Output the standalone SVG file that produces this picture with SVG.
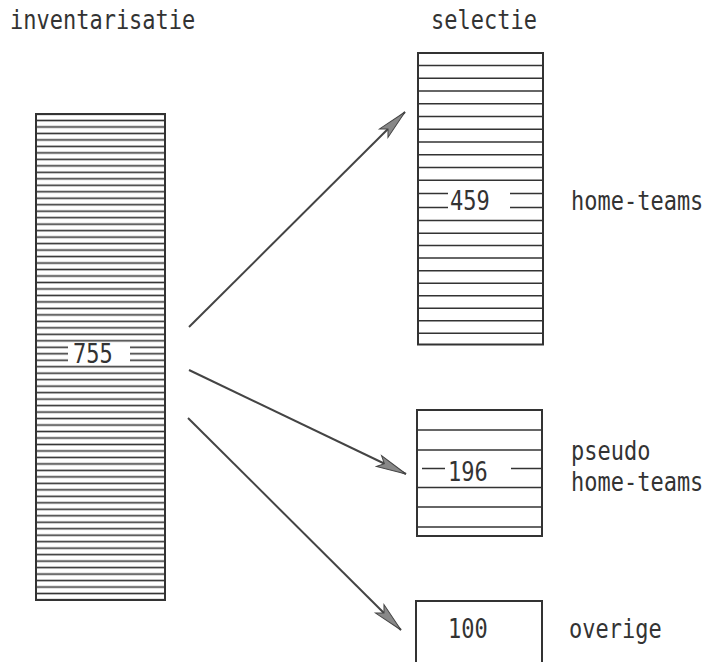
<svg xmlns="http://www.w3.org/2000/svg" width="703" height="662" viewBox="0 0 703 662">
<style>
.t{font-family:"DejaVu Sans Mono","Liberation Mono",monospace;font-size:22px;fill:#333}
.b{fill:none;stroke:#333;stroke-width:2}
.l{stroke:#333;stroke-width:1.5}
.c{stroke:#444;stroke-width:2;fill:none}
</style>
<defs>
<pattern id="hatch" patternUnits="userSpaceOnUse" x="0" y="110.76" width="10" height="6.48">
<rect width="10" height="6.48" fill="#fff"/>
<line x1="0" y1="3.24" x2="10" y2="3.24" stroke="#333" stroke-width="1.6"/>
</pattern>
<marker id="ah" markerUnits="userSpaceOnUse" markerWidth="34" markerHeight="18" refX="32" refY="9" orient="auto">
<path d="M32,9 L2,3 L8,9 L2,15 Z" fill="#888" stroke="#444" stroke-width="1"/>
</marker>
</defs>
<g id="inventarisatie">
<rect x="36" y="114" width="129" height="486" fill="url(#hatch)"/>
<rect x="36" y="114" width="129" height="486" class="b"/>
<rect x="68" y="344.5" width="62" height="20" fill="#fff"/>
<text class="t" transform="translate(10,29) scale(1,1.2)">inventarisatie</text>
<text class="t" transform="translate(73,363) scale(1,1.2)">755</text>
</g>
<g id="selectie-title">
<text class="t" transform="translate(431,29) scale(1,1.2)">selectie</text>
</g>
<g id="home-teams">
<rect x="418" y="53" width="125" height="291.5" class="b"/>
<g class="l">
<line x1="418" y1="65.5" x2="543" y2="65.5"/>
<line x1="418" y1="78.2" x2="543" y2="78.2"/>
<line x1="418" y1="91" x2="543" y2="91"/>
<line x1="418" y1="103.7" x2="543" y2="103.7"/>
<line x1="418" y1="116.5" x2="543" y2="116.5"/>
<line x1="418" y1="129.2" x2="543" y2="129.2"/>
<line x1="418" y1="142" x2="543" y2="142"/>
<line x1="418" y1="154.7" x2="543" y2="154.7"/>
<line x1="418" y1="167.5" x2="543" y2="167.5"/>
<line x1="418" y1="180.2" x2="543" y2="180.2"/>
<line x1="418" y1="193.5" x2="448" y2="193.5"/>
<line x1="510" y1="193.5" x2="543" y2="193.5"/>
<line x1="418" y1="207.5" x2="448" y2="207.5"/>
<line x1="510" y1="207.5" x2="543" y2="207.5"/>
<line x1="418" y1="220.5" x2="543" y2="220.5"/>
<line x1="418" y1="233.2" x2="543" y2="233.2"/>
<line x1="418" y1="245.5" x2="543" y2="245.5"/>
<line x1="418" y1="258" x2="543" y2="258"/>
<line x1="418" y1="270.7" x2="543" y2="270.7"/>
<line x1="418" y1="283.3" x2="543" y2="283.3"/>
<line x1="418" y1="295.7" x2="543" y2="295.7"/>
<line x1="418" y1="308.3" x2="543" y2="308.3"/>
<line x1="418" y1="320.7" x2="543" y2="320.7"/>
<line x1="418" y1="333.3" x2="543" y2="333.3"/>
</g>
<text class="t" transform="translate(450,210) scale(1,1.2)">459</text>
<text class="t" transform="translate(571,210) scale(1,1.2)">home-teams</text>
</g>
<g id="pseudo-home-teams">
<rect x="417" y="410" width="125" height="126" class="b"/>
<g class="l">
<line x1="417" y1="430" x2="542" y2="430"/>
<line x1="417" y1="450" x2="542" y2="450"/>
<line x1="422" y1="468.5" x2="445" y2="468.5"/>
<line x1="511" y1="468.5" x2="542" y2="468.5"/>
<line x1="417" y1="487.5" x2="542" y2="487.5"/>
<line x1="417" y1="507" x2="542" y2="507"/>
<line x1="417" y1="527" x2="542" y2="527"/>
</g>
<text class="t" transform="translate(448,481) scale(1,1.2)">196</text>
<text class="t" transform="translate(571,460) scale(1,1.2)">pseudo</text>
<text class="t" transform="translate(571,491) scale(1,1.2)">home-teams</text>
</g>
<g id="overige">
<rect x="416" y="601" width="126" height="80" class="b"/>
<text class="t" transform="translate(448,638) scale(1,1.2)">100</text>
<text class="t" transform="translate(569,638) scale(1,1.2)">overige</text>
</g>
<g id="connectors">
<line x1="189" y1="327" x2="405" y2="112" class="c" marker-end="url(#ah)"/>
<line x1="189" y1="370" x2="406" y2="474" class="c" marker-end="url(#ah)"/>
<line x1="188" y1="418" x2="401" y2="630" class="c" marker-end="url(#ah)"/>
</g>
</svg>
